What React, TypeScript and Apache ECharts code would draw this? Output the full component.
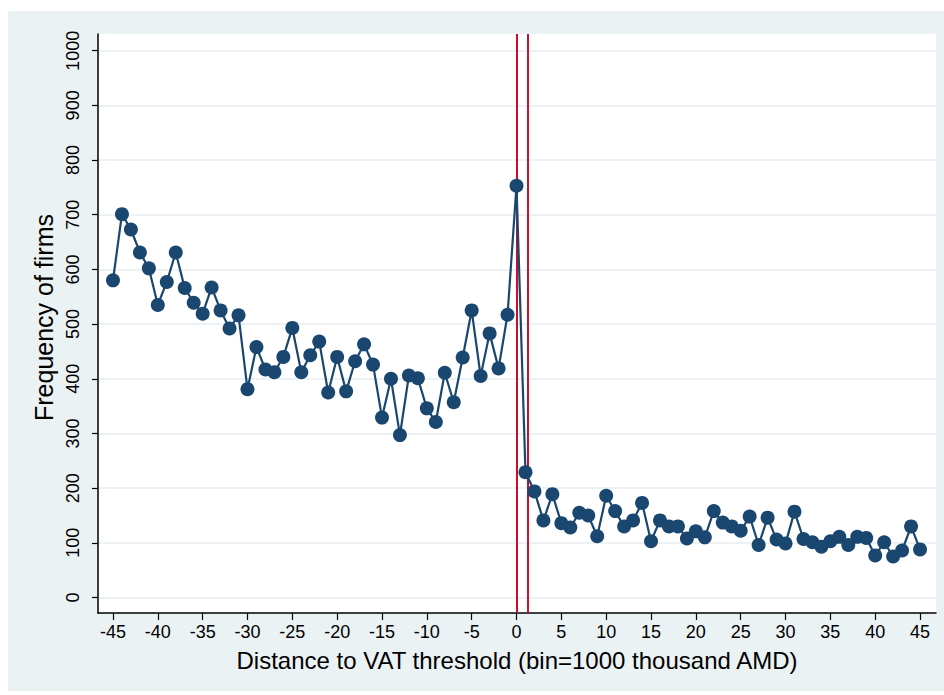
import React, { useEffect, useRef } from "react";
import * as echarts from "echarts";

const bins = [
  -45, -44, -43, -42, -41, -40, -39, -38, -37, -36,
  -35, -34, -33, -32, -31, -30, -29, -28, -27, -26,
  -25, -24, -23, -22, -21, -20, -19, -18, -17, -16,
  -15, -14, -13, -12, -11, -10, -9, -8, -7, -6,
  -5, -4, -3, -2, -1, 0, 1, 2, 3, 4,
  5, 6, 7, 8, 9, 10, 11, 12, 13, 14,
  15, 16, 17, 18, 19, 20, 21, 22, 23, 24,
  25, 26, 27, 28, 29, 30, 31, 32, 33, 34,
  35, 36, 37, 38, 39, 40, 41, 42, 43, 44, 45,
];

const firms = [
  580, 701, 673, 631, 602, 535, 577, 631, 566, 539,
  519, 567, 525, 492, 516, 381, 458, 417, 412, 440,
  493, 412, 443, 468, 375, 440, 377, 432, 463, 426,
  329, 400, 297, 406, 401, 346, 321, 411, 357, 439,
  525, 405, 483, 419, 517, 753, 229, 194, 141, 189,
  136, 128, 155, 150, 112, 186, 158, 130, 141, 173,
  103, 141, 130, 130, 108, 121, 110, 158, 137, 130,
  122, 148, 96, 146, 106, 99, 157, 107, 101, 93,
  103, 111, 96, 111, 109, 77, 101, 75, 86, 130, 88,
];

const xTicks = [-45, -40, -35, -30, -25, -20, -15, -10, -5, 0, 5, 10, 15, 20, 25, 30, 35, 40, 45];
const yTicks = [0, 100, 200, 300, 400, 500, 600, 700, 800, 900, 1000];
const thresholdLines = [0, 1.2];

const FONT = "'Liberation Sans', Arial, Helvetica, sans-serif";

export default function App() {
  const ref = useRef<HTMLDivElement>(null);

  useEffect(() => {
    if (!ref.current) return;
    const chart = echarts.init(ref.current, null, { renderer: "svg" });
    const data = bins.map((b, i) => [b, firms[i]]);
    chart.setOption({
      animation: false,
      backgroundColor: "#EAF2F3",
      textStyle: { fontFamily: FONT, color: "#000" },
      grid: {
        left: 90,
        top: 23,
        right: 8,
        bottom: 78,
        containLabel: false,
        outerBoundsMode: "none",
        show: true,
        backgroundColor: "#ffffff",
        borderWidth: 0,
      },
      xAxis: {
        type: "value",
        min: -46.67,
        max: 46.78,
        name: "Distance to VAT threshold (bin=1000 thousand AMD)",
        nameLocation: "middle",
        nameGap: 35,
        nameTextStyle: { fontSize: 24, color: "#000", fontFamily: FONT },
        axisLine: { show: true, onZero: false, lineStyle: { color: "#000", width: 1.5 } },
        axisTick: { show: true, length: 7, customValues: xTicks, lineStyle: { color: "#000", width: 1.2 } },
        axisLabel: {
          show: true,
          customValues: xTicks,
          fontSize: 18,
          margin: 10,
          color: "#000",
          fontFamily: FONT,
          formatter: (v: number) => String(v),
        },
        splitLine: { show: false },
      },
      yAxis: {
        type: "value",
        min: -28.3,
        max: 1030.5,
        name: "Frequency of firms",
        nameLocation: "middle",
        nameGap: 38,
        nameTextStyle: { fontSize: 25, color: "#000", fontFamily: FONT, padding: [0, 0, 0, 12] },
        axisLine: { show: true, onZero: false, lineStyle: { color: "#000", width: 1.5 } },
        axisTick: { show: true, length: 6, customValues: yTicks, lineStyle: { color: "#000", width: 1.2 } },
        axisLabel: {
          show: true,
          customValues: yTicks,
          rotate: 90,
          fontSize: 18,
          margin: 16,
          color: "#000",
          fontFamily: FONT,
          formatter: (v: number) => String(v),
        },
        splitLine: { show: true, lineStyle: { color: "#E6EEF0", width: 1.6 } },
      },
      series: [
        {
          type: "line",
          data,
          symbol: "circle",
          symbolSize: 14,
          itemStyle: { color: "#1A476F" },
          lineStyle: { color: "#1A476F", width: 2.2 },
          z: 3,
          markLine: {
            silent: true,
            symbol: "none",
            label: { show: false },
            lineStyle: { color: "#C8102E", width: 2, type: "solid" },
            z: 2,
            data: thresholdLines.map((x) => ({ xAxis: x })),
          },
        },
      ],
    });
    return () => chart.dispose();
  }, []);

  return (
    <div
      ref={ref}
      style={{ position: "absolute", left: 8, top: 11, width: 936, height: 680 }}
    />
  );
}
